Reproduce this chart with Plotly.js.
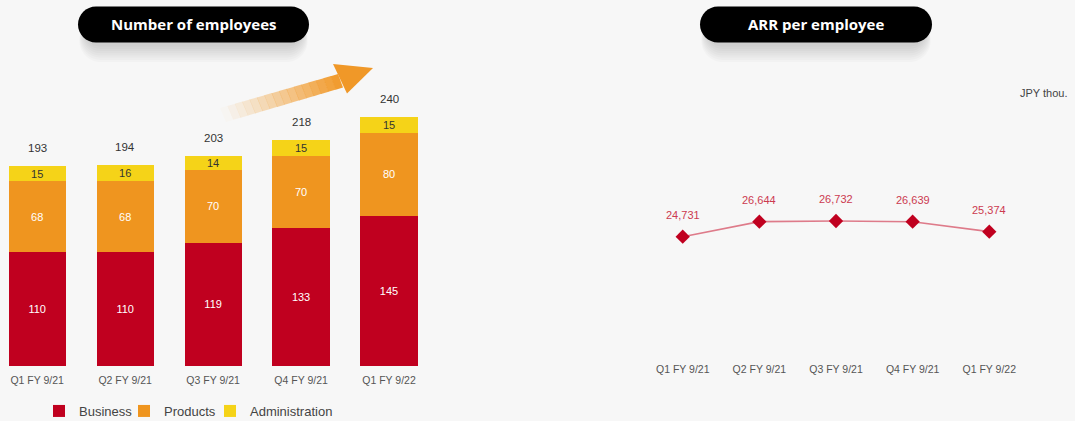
<!DOCTYPE html>
<html>
<head>
<meta charset="utf-8">
<script src="https://cdn.plot.ly/plotly-3.0.1.min.js"></script>
<style>
html,body{margin:0;padding:0;background:#f7f7f7;}
#chart{width:1075px;height:421px;}
</style>
</head>
<body>
<div id="chart"></div>
<script>
const categories = ['Q1 FY 9/21', 'Q2 FY 9/21', 'Q3 FY 9/21', 'Q4 FY 9/21', 'Q1 FY 9/22'];
const business = [110, 110, 119, 133, 145];
const products = [68, 68, 70, 70, 80];
const administration = [15, 16, 14, 15, 15];
const totals = [193, 194, 203, 218, 240];
const arrPerEmployee = [24731, 26644, 26732, 26639, 25374];

const W = 1075, H = 421;
const px = x => x / W;
const py = y => 1 - y / H;

const RED = '#c0001f', ORANGE = '#ef951f', YELLOW = '#f5d318';
const FONT = 'Liberation Sans, Arial, sans-serif';

const barCommon = {
  type: 'bar', x: categories, xaxis: 'x', yaxis: 'y',
  textposition: 'inside', insidetextanchor: 'middle', constraintext: 'none',
  hoverinfo: 'skip', marker: {line: {width: 0}}
};

const traces = [
  Object.assign({}, barCommon, {name: 'Business', y: business, text: business.map(String), legend: 'legend',
    marker: {color: RED}, textfont: {color: '#ffffff', size: 11, family: FONT}}),
  Object.assign({}, barCommon, {name: 'Products', y: products, text: products.map(String), legend: 'legend2',
    marker: {color: ORANGE}, textfont: {color: '#ffffff', size: 11, family: FONT}}),
  Object.assign({}, barCommon, {name: 'Administration', y: administration, text: administration.map(String), legend: 'legend3',
    marker: {color: YELLOW}, textfont: {color: '#333333', size: 11, family: FONT}}),
  {
    type: 'scatter', mode: 'lines+markers', x: categories, y: arrPerEmployee,
    xaxis: 'x2', yaxis: 'y2', showlegend: false, hoverinfo: 'skip', cliponaxis: false,
    line: {color: '#de7b8a', width: 1.6},
    marker: {symbol: 'diamond', size: 11, color: RED}
  }
];

function pillPath(x0, y0, x1, y1) {
  const r = (y1 - y0) / 2, k = 0.5523 * r;
  const P = (x, y) => px(x).toFixed(5) + ',' + py(y).toFixed(5);
  return 'M' + P(x0 + r, y0) + ' L' + P(x1 - r, y0) +
    ' C' + P(x1 - r + k, y0) + ' ' + P(x1, y0 + r - k) + ' ' + P(x1, y0 + r) +
    ' C' + P(x1, y0 + r + k) + ' ' + P(x1 - r + k, y1) + ' ' + P(x1 - r, y1) +
    ' L' + P(x0 + r, y1) +
    ' C' + P(x0 + r - k, y1) + ' ' + P(x0, y0 + r + k) + ' ' + P(x0, y0 + r) +
    ' C' + P(x0, y0 + r - k) + ' ' + P(x0 + r - k, y0) + ' ' + P(x0 + r, y0) + ' Z';
}

const shapes = [];
function addPill(x0, y0, x1, y1) {
  for (let i = 8; i >= 1; i--) {
    shapes.push({type: 'path', xref: 'paper', yref: 'paper',
      path: pillPath(x0 + 6 - i * 0.6, y0 + 6 + i * 0.8, x1 - 6 + i * 0.6, y1 + 2 + i * 2.2),
      fillcolor: 'rgba(0,0,0,0.018)', line: {width: 0}});
  }
  shapes.push({type: 'path', xref: 'paper', yref: 'paper', path: pillPath(x0, y0, x1, y1),
    fillcolor: '#000000', line: {width: 0}});
}
addPill(78, 6.5, 309, 42.5);
addPill(700, 6.5, 932, 42.5);

// gradient arrow
const tl = [220, 108], bl = [226, 122], tr = [338, 74], br = [343, 87.5];
const N = 16;
const lerp = (a, b, t) => [a[0] + (b[0] - a[0]) * t, a[1] + (b[1] - a[1]) * t];
for (let i = 0; i < N; i++) {
  const t0 = i / N, t1 = (i + 1.05) / N;
  const a = lerp(tl, tr, t0), b = lerp(tl, tr, Math.min(t1, 1)), c = lerp(bl, br, Math.min(t1, 1)), d = lerp(bl, br, t0);
  const op = Math.pow((i + 0.5) / N, 1.1);
  shapes.push({type: 'path', xref: 'paper', yref: 'paper',
    path: 'M' + px(a[0]) + ',' + py(a[1]) + ' L' + px(b[0]) + ',' + py(b[1]) + ' L' + px(c[0]) + ',' + py(c[1]) + ' L' + px(d[0]) + ',' + py(d[1]) + ' Z',
    fillcolor: 'rgba(240,152,40,' + op.toFixed(3) + ')', line: {width: 0}});
}
shapes.push({type: 'path', xref: 'paper', yref: 'paper',
  path: 'M' + px(333) + ',' + py(64) + ' L' + px(373) + ',' + py(68) + ' L' + px(347) + ',' + py(93.5) + ' Z',
  fillcolor: 'rgb(240,152,40)', line: {width: 0}});

const annotations = [
  {xref: 'paper', yref: 'paper', x: px(193.5), y: py(24.5), xanchor: 'center', yanchor: 'middle',
    text: '<b>Number of employees</b>', showarrow: false,
    font: {family: 'Open Sans, sans-serif', size: 15, color: '#ffffff'}},
  {xref: 'paper', yref: 'paper', x: px(816), y: py(24.5), xanchor: 'center', yanchor: 'middle',
    text: '<b>ARR per employee</b>', showarrow: false,
    font: {family: 'Open Sans, sans-serif', size: 15, color: '#ffffff'}},
  {xref: 'paper', yref: 'paper', x: px(1044), y: py(93), xanchor: 'center', yanchor: 'middle',
    text: 'JPY thou.', showarrow: false,
    font: {family: FONT, size: 11, color: '#444444'}}
];
categories.forEach((c, i) => {
  annotations.push({xref: 'x', yref: 'y', x: c, y: totals[i], yshift: 18, xanchor: 'center', yanchor: 'middle',
    text: String(totals[i]), showarrow: false, font: {family: FONT, size: 11.5, color: '#333333'}});
  annotations.push({xref: 'x2', yref: 'y2', x: c, y: arrPerEmployee[i], yshift: 22, xanchor: 'center', yanchor: 'middle',
    text: arrPerEmployee[i].toLocaleString('en-US'), showarrow: false,
    font: {family: FONT, size: 11, color: '#cc3a50'}});
});

const legendBase = {orientation: 'h', xanchor: 'left', y: py(411), yanchor: 'middle',
  font: {family: FONT, size: 13, color: '#444444'}, bgcolor: 'rgba(0,0,0,0)'};

const layout = {
  width: W, height: H,
  margin: {l: 0, r: 0, t: 0, b: 0, autoexpand: false},
  paper_bgcolor: '#f7f7f7', plot_bgcolor: 'rgba(0,0,0,0)',
  barmode: 'stack', bargap: 0.35,
  showlegend: true,
  legend: Object.assign({}, legendBase, {x: px(39)}),
  legend2: Object.assign({}, legendBase, {x: px(124)}),
  legend3: Object.assign({}, legendBase, {x: px(210)}),
  xaxis: {domain: [px(2), px(433)], range: [-0.4, 4.5], type: 'category', anchor: 'y',
    showgrid: false, zeroline: false, showline: false, ticks: '', ticklabelstandoff: 6,
    tickfont: {family: FONT, size: 10.5, color: '#555555'}, fixedrange: true},
  yaxis: {domain: [py(366), py(55)], range: [0, 300], visible: false, fixedrange: true},
  xaxis2: {domain: [px(644.4), px(1027.6)], range: [-0.5, 4.5], type: 'category', anchor: 'y2',
    showgrid: false, zeroline: false, showline: false, ticks: '', ticklabelstandoff: 6,
    tickfont: {family: FONT, size: 10.5, color: '#555555'}, fixedrange: true},
  yaxis2: {domain: [py(355), py(55)], range: [9640, 47900], visible: false, fixedrange: true},
  shapes: shapes,
  annotations: annotations,
  font: {family: FONT}
};

Plotly.newPlot('chart', traces, layout, {displayModeBar: false, staticPlot: true});
</script>
</body>
</html>
